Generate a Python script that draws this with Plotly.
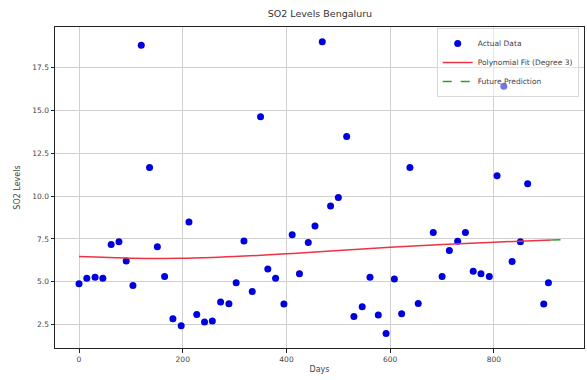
import plotly.graph_objects as go

days = [0, 15, 31, 46, 62, 77, 91, 104, 120, 136, 151, 165, 181, 197, 212, 227, 242, 257,
        273, 289, 303, 318, 334, 350, 364, 379, 395, 411, 425, 442, 455, 469, 485, 500,
        516, 530, 546, 561, 577, 592, 608, 622, 638, 654, 683, 700, 714, 730, 745, 760,
        775, 791, 806, 819, 835, 851, 865, 896, 905]
so2 = [4.88, 5.21, 5.27, 5.21, 7.17, 7.34, 6.22, 4.79, 18.8, 11.67, 7.05, 5.31, 2.85, 2.44,
       8.49, 3.10, 2.66, 2.71, 3.82, 3.72, 4.94, 7.38, 4.44, 14.63, 5.74, 5.21, 3.70, 7.75,
       5.47, 7.29, 8.26, 19.0, 9.42, 9.92, 13.47, 2.97, 3.55, 5.27, 3.06, 1.99, 5.17, 3.14,
       11.67, 3.74, 7.87, 5.31, 6.82, 7.37, 7.87, 5.62, 5.47, 5.31, 11.18, 16.4, 6.18, 7.33,
       10.72, 3.70, 4.94]

fit_days = [0, 100, 200, 300, 400, 500, 600, 700, 800, 911]
fit_vals = [6.47, 6.38, 6.37, 6.47, 6.63, 6.82, 7.02, 7.18, 7.31, 7.44]

future_days = [911, 931]
future_vals = [7.44, 7.46]

fig = go.Figure()
fig.add_trace(go.Scatter(x=days, y=so2, mode="markers", name="Actual Data",
                         marker=dict(color="#0000dd", size=7)))
fig.add_trace(go.Scatter(x=fit_days, y=fit_vals, mode="lines", name="Polynomial Fit (Degree 3)",
                         line=dict(color="#ee3344", width=1.5, shape="spline")))
fig.add_trace(go.Scatter(x=future_days, y=future_vals, mode="lines", name="Future Prediction",
                         line=dict(color="#2ca02c", width=1.5, dash="dash")))

axis_common = dict(showline=True, linecolor="#222", linewidth=1, mirror=True,
                   ticks="outside", ticklen=3.5, tickcolor="#222",
                   showgrid=True, gridcolor="#d0d0d0", gridwidth=1, zeroline=False,
                   tickfont=dict(size=7.5, color="#444", family="DejaVu Sans"))

fig.update_layout(
    width=587, height=380,
    margin=dict(l=55, r=3, t=27, b=32),
    paper_bgcolor="white", plot_bgcolor="white",
    font=dict(family="DejaVu Sans", color="#444"),
    title=dict(text="SO2 Levels Bengaluru", x=0.545, xanchor="center", y=0.965,
               yanchor="middle", font=dict(size=9.5, color="#333")),
    showlegend=True,
    legend=dict(x=0.99, y=0.997, xanchor="right", yanchor="top",
                bgcolor="rgba(255,255,255,0.45)", bordercolor="#d8d8d8", borderwidth=1,
                font=dict(size=7.5, color="#444"), itemwidth=30, tracegroupgap=0),
)
fig.update_xaxes(range=[-46.3, 973.6], tick0=0, dtick=200,
                 title=dict(text="Days", font=dict(size=8, color="#444"), standoff=3),
                 **axis_common)
fig.update_yaxes(range=[1.14, 19.86], tick0=0, dtick=2.5, tickformat=".1f",
                 title=dict(text="SO2 Levels", font=dict(size=8, color="#444"), standoff=10),
                 **axis_common)

fig.write_html("out.html", config={"displayModeBar": False},
               post_script="document.body.style.margin='0';")
